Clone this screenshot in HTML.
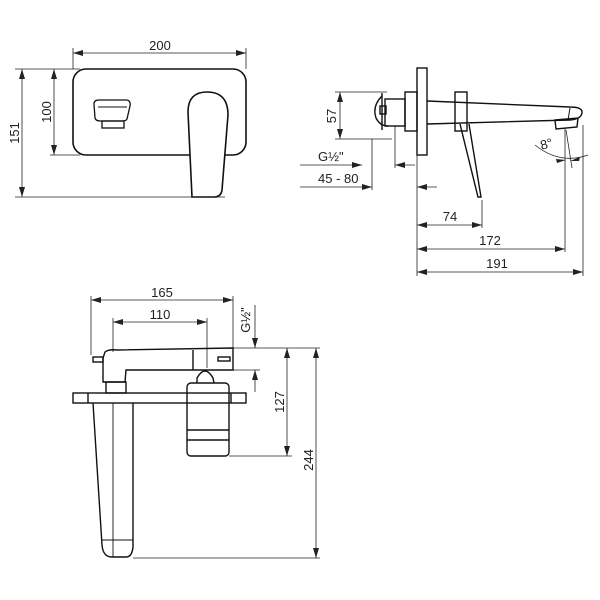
<!DOCTYPE html>
<html><head><meta charset="utf-8"><style>
html,body{margin:0;padding:0;background:#fff}
svg{display:block}
text{font-family:"Liberation Sans",sans-serif;font-size:13px;fill:#222}
</style></head><body>
<svg width="600" height="600" viewBox="0 0 600 600" xmlns="http://www.w3.org/2000/svg">
<defs>
<marker id="a" viewBox="0 0 10 6" refX="10" refY="3" markerWidth="10" markerHeight="6" orient="auto-start-reverse" markerUnits="userSpaceOnUse"><path d="M0,0 L10,3 L0,6 Z" fill="#222"/></marker>
</defs>
<g stroke="#222" fill="none" stroke-width="0.8">
<!-- TOP LEFT -->
<line x1="73" y1="48" x2="73" y2="69"/><line x1="246" y1="48" x2="246" y2="69"/>
<line x1="73" y1="53" x2="246" y2="53" marker-start="url(#a)" marker-end="url(#a)"/>
<line x1="15" y1="69" x2="80" y2="69"/><line x1="15" y1="197" x2="225" y2="197"/>
<line x1="22" y1="69" x2="22" y2="197" marker-start="url(#a)" marker-end="url(#a)"/>
<line x1="50" y1="155" x2="80" y2="155"/>
<line x1="54" y1="69" x2="54" y2="155" marker-start="url(#a)" marker-end="url(#a)"/>
</g>
<g stroke="#111" fill="none" stroke-width="1.6">
<rect x="73" y="69" width="173" height="86" rx="13"/>
<path d="M192,197 L188,112 Q188,92 207,92 Q228,92 228,115 L222,190 Q221,197 214,197 Z" fill="#fff"/>
<path d="M94,104 Q94,100 99,100 L126,100 Q131,100 130,106 L127,119 Q126,121 122,121 L100,121 Q96,121 95,118 Z" stroke-width="1.3"/>
<rect x="102" y="121" width="22" height="7" stroke-width="1.3"/>
<line x1="98" y1="107" x2="127" y2="107" stroke-width="1"/>
</g>
<text x="160" y="50" text-anchor="middle">200</text>
<text transform="translate(19,133) rotate(-90)" text-anchor="middle">151</text>
<text transform="translate(51,112) rotate(-90)" text-anchor="middle">100</text>

<!-- RIGHT VIEW -->
<g stroke="#222" fill="none" stroke-width="0.8">
<line x1="335" y1="92" x2="387" y2="92"/><line x1="335" y1="139" x2="392" y2="139"/>
<line x1="340" y1="92" x2="340" y2="139" marker-start="url(#a)" marker-end="url(#a)"/>
<line x1="372" y1="139" x2="372" y2="190"/><line x1="395" y1="126" x2="395" y2="168"/>
<line x1="300" y1="165" x2="362" y2="165" marker-end="url(#a)"/>
<line x1="395" y1="165" x2="415" y2="165" marker-start="url(#a)"/>
<line x1="300" y1="187" x2="372" y2="187" marker-end="url(#a)"/>
<line x1="417" y1="187" x2="437" y2="187" marker-start="url(#a)"/>
<line x1="417" y1="155" x2="417" y2="276"/>
<line x1="482" y1="200" x2="482" y2="228"/>
<line x1="565" y1="128" x2="565" y2="252"/>
<line x1="583" y1="125" x2="583" y2="276"/>
<line x1="417" y1="225" x2="482" y2="225" marker-start="url(#a)" marker-end="url(#a)"/>
<line x1="417" y1="249" x2="565" y2="249" marker-start="url(#a)" marker-end="url(#a)"/>
<line x1="417" y1="272" x2="583" y2="272" marker-start="url(#a)" marker-end="url(#a)"/>
<line x1="566" y1="130" x2="572" y2="168"/>
<path d="M535,145 Q560,165 588,155"/>
</g>
<path d="M556,159 L566,160 L557,163 Z" fill="#222"/>
<path d="M580,157 L570,161 L579,161 Z" fill="#222"/>
<g stroke="#111" fill="none" stroke-width="1.4">
<rect x="417" y="68" width="10" height="87"/>
<rect x="405" y="92" width="12" height="39"/>
<rect x="385" y="99" width="20" height="27"/>
<path d="M382,96 Q372,106 376,118 Q380,126 388,126"/>
<line x1="382" y1="93" x2="382" y2="130"/>
<rect x="380" y="106" width="6" height="8"/>
<rect x="455" y="92" width="12" height="39"/>
<path d="M427,101 L570,107 Q583,107 582,113 Q581,119 570,120 L427,124"/>
<line x1="570" y1="108" x2="568" y2="120" stroke-width="1"/>
<path d="M555,120 L578,118 L577,127 L556,129 Z"/>
<path d="M460,124 L478,197 L481,197 L469,124"/>
</g>
<text x="336" y="116" text-anchor="middle" transform="rotate(-90 336 116)">57</text>
<text x="318" y="161">G½"</text>
<text x="318" y="183">45 - 80</text>
<text x="450" y="221" text-anchor="middle">74</text>
<text x="490" y="245" text-anchor="middle">172</text>
<text x="497" y="268" text-anchor="middle">191</text>
<text x="540" y="148" transform="rotate(-15 548 143)">8°</text>

<!-- BOTTOM VIEW -->
<g stroke="#222" fill="none" stroke-width="0.8">
<line x1="91" y1="296" x2="91" y2="355"/><line x1="233" y1="296" x2="233" y2="352"/>
<line x1="91" y1="300" x2="233" y2="300" marker-start="url(#a)" marker-end="url(#a)"/>
<line x1="113" y1="318" x2="113" y2="352"/><line x1="207" y1="318" x2="207" y2="368"/>
<line x1="113" y1="322" x2="207" y2="322" marker-start="url(#a)" marker-end="url(#a)"/>
<line x1="255" y1="305" x2="255" y2="348" marker-end="url(#a)"/>
<line x1="255" y1="370" x2="255" y2="392" marker-start="url(#a)"/>
<line x1="233" y1="348" x2="320" y2="348"/><line x1="233" y1="370" x2="260" y2="370"/>
<line x1="229" y1="456" x2="292" y2="456"/>
<line x1="133" y1="558" x2="320" y2="558"/>
<line x1="287" y1="348" x2="287" y2="456" marker-start="url(#a)" marker-end="url(#a)"/>
<line x1="316" y1="348" x2="316" y2="558" marker-start="url(#a)" marker-end="url(#a)"/>
</g>
<g stroke="#111" fill="none" stroke-width="1.4">
<path d="M105,352 Q109,349 117,350 L233,348 L233,370 L200,370 L126,370 L125,382 L103,382 L103,358 Z"/>
<rect x="93" y="357" width="10" height="5"/>
<rect x="218" y="357" width="12" height="4"/>
<line x1="193" y1="350" x2="193" y2="370"/>
<path d="M197,383 L197,378 Q205,364 213,378 L214,383"/>
<rect x="106" y="382" width="20" height="11"/>
<rect x="73" y="393" width="173" height="10"/>
<line x1="88" y1="393" x2="88" y2="403"/><line x1="231" y1="393" x2="231" y2="403"/>
<path d="M93,403 L102,545 Q103,557 112,557 L126,557 Q132,557 133,547 L133,403"/>
<line x1="113" y1="403" x2="113" y2="557" stroke-width="0.9"/>
<line x1="102" y1="540" x2="133" y2="540" stroke-width="0.9"/>
<rect x="187" y="383" width="42" height="73" rx="4"/>
<line x1="187" y1="430" x2="229" y2="430"/>
<line x1="187" y1="440" x2="229" y2="440"/>
</g>
<text x="162" y="297" text-anchor="middle">165</text>
<text x="160" y="319" text-anchor="middle">110</text>
<text transform="translate(250,320) rotate(-90)" text-anchor="middle">G½"</text>
<text transform="translate(284,402) rotate(-90)" text-anchor="middle">127</text>
<text transform="translate(313,460) rotate(-90)" text-anchor="middle">244</text>
</svg>
</body></html>
